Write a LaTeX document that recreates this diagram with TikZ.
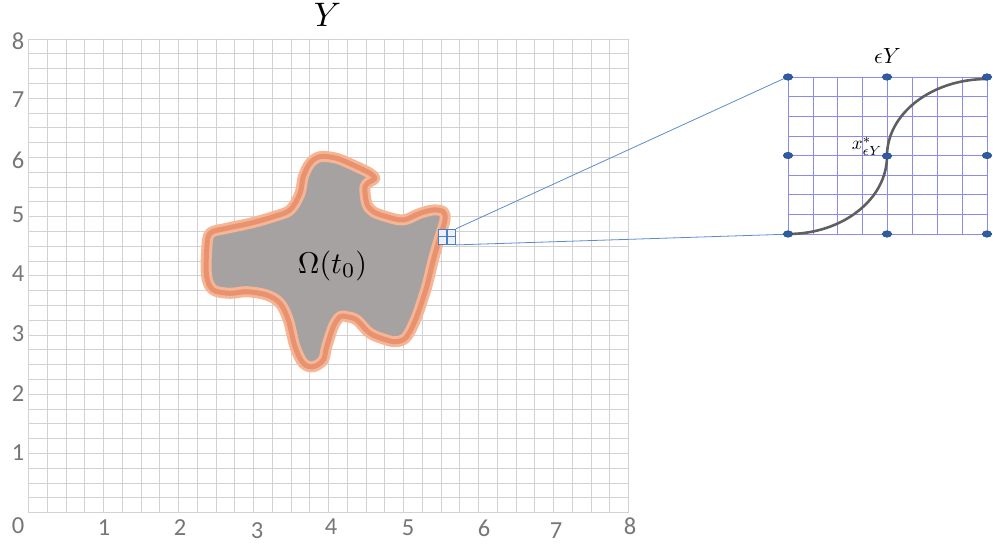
\documentclass[tikz,border=0pt]{standalone}
\usepackage{fontspec}
\newfontfamily\tickfont{Carlito}
\usetikzlibrary{shapes.geometric}
\definecolor{gridgray}{HTML}{D2D2D2}
\definecolor{tickgray}{HTML}{767676}
\definecolor{blobgray}{HTML}{A6A2A1}
\definecolor{orangelight}{HTML}{F6B595}
\definecolor{orangedark}{HTML}{E8926F}
\definecolor{boxblue}{HTML}{4A80C8}
\definecolor{boxfill}{HTML}{EEF0FA}
\definecolor{zoomblue}{HTML}{5B8BD0}
\definecolor{insetblue}{HTML}{8A8AF2}
\definecolor{dotblue}{HTML}{2E5C9E}
\definecolor{dotedge}{HTML}{1F4B8A}
\definecolor{curvegray}{HTML}{5F5F5F}
\begin{document}
\begin{tikzpicture}[x=1pt,y=-1pt,
  gridline/.style={draw=gridgray,line width=0.9pt},
  insetline/.style={draw=insetblue,line width=0.7pt},
  ticklabel/.style={font=\tickfont\fontsize{24.5}{24.5}\selectfont,text=tickgray,inner sep=0pt},
  dotnode/.style={ellipse,fill=dotblue,draw=dotedge,line width=0.5pt,minimum width=9.5pt,minimum height=6.5pt,inner sep=0pt},
  zoomline/.style={draw=zoomblue,line width=0.8pt},
  mathlabel/.style={inner sep=0pt,font=\fontsize{10}{10}\selectfont}]
\useasboundingbox (0,0) rectangle (993,545);
% main grid
\foreach \i in {0,...,32} {
  \draw[gridline] ({28.5+18.75*\i},39) -- ({28.5+18.75*\i},512.7);
  \draw[gridline] (28.5,{39+14.803*\i}) -- (628.5,{39+14.803*\i});
}
% tick labels
\foreach \v/\x/\y in {0/18/526,1/104/528,2/180/528,3/257/531,4/331/527,5/408/528,6/484/528,7/556/531,8/630/526}
  \node[ticklabel] (xl\v) at (\x,\y) {\v};
\foreach \v/\y in {1/453,2/394,3/334,4/274,5/215,6/160,7/100,8/41}
  \node[ticklabel] (yl\v) at (18,\y) {\v};
% title
\node[mathlabel,scale=3.4] (title) at (327.5,15) {$Y$};
% blob
\def\blobpath{plot[smooth cycle,tension=0.55] coordinates {
 (310,163.3) (320,156.7) (336.7,158.3) (356.7,166.7) (370,173.3) (375,178.3)
 (370,181.7) (365,186.7) (366.7,203.3) (373.3,211.7) (386.7,216.7) (403.3,220)
 (420,213.3) (433.3,210) (443.3,211.7) (445,220) (440,236.7) (433.3,260)
 (426.7,286.7) (416.7,316.7) (406.7,336.7) (396.7,341.7) (386.7,340) (370,333.3)
 (356.7,320) (346.7,316.7) (340,316.7) (333.3,326.7) (326.7,346.7) (323.3,360)
 (313.3,366.7) (303.3,363.3) (295,346.7) (288.3,320) (280,303.3) (266.7,295)
 (246.7,291.7) (230,293.3) (213.3,290) (206.7,276.7) (206.7,250) (210,233.3)
 (226.7,228.3) (250,223.3) (273.3,216.7) (290,210) (300,193.3) (303.3,176.7)}}
\fill[blobgray] \blobpath;
\draw[orangelight,line width=11pt,line join=round] \blobpath;
\draw[orangedark,line width=5pt,line join=round] \blobpath;
\node[mathlabel,scale=3.0] (omega) at (332.5,266) {$\Omega(t_0)$};
% small zoom box
\node[draw=boxblue,fill=boxfill,line width=1.2pt,minimum width=17pt,minimum height=15pt,inner sep=0pt] (zb) at (447,236.8) {};
\draw[boxblue,line width=1.2pt] (zb.north) -- (zb.south) (zb.west) -- (zb.east);
% inset
\node[minimum width=199pt,minimum height=157pt,inner sep=0pt] (inset) at (887.5,155.5) {};
\foreach \i in {0,...,8} {
  \draw[insetline] ({788+24.875*\i},77) -- ({788+24.875*\i},234);
  \draw[insetline] (788,{77+19.625*\i}) -- (987,{77+19.625*\i});
}
\draw[zoomline] (zb.north east) -- (inset.north west);
\draw[zoomline] (zb.south east) -- (inset.south west);
% curve
\draw[curvegray,line width=2.6pt] (788,234) .. controls (842.7,234) and (887,199.1) .. (887,156)
  .. controls (887,113.5) and (931.8,79) .. (987,79);
% dots
\foreach \n/\x/\y in {d1/788/77,d2/887/77,d3/987/77,d4/788/155.5,d5/887/156,d6/987/155.5,d7/788/234,d8/887/234,d9/987/234}
  \node[dotnode] (\n) at (\x,\y) {};
\node[mathlabel,scale=1.9] (xstar) at (867,146) {$x^*_{\epsilon Y}$};
\node[mathlabel,scale=2.2] (eyl) at (887.5,56) {$\epsilon Y$};
\end{tikzpicture}
\end{document}
